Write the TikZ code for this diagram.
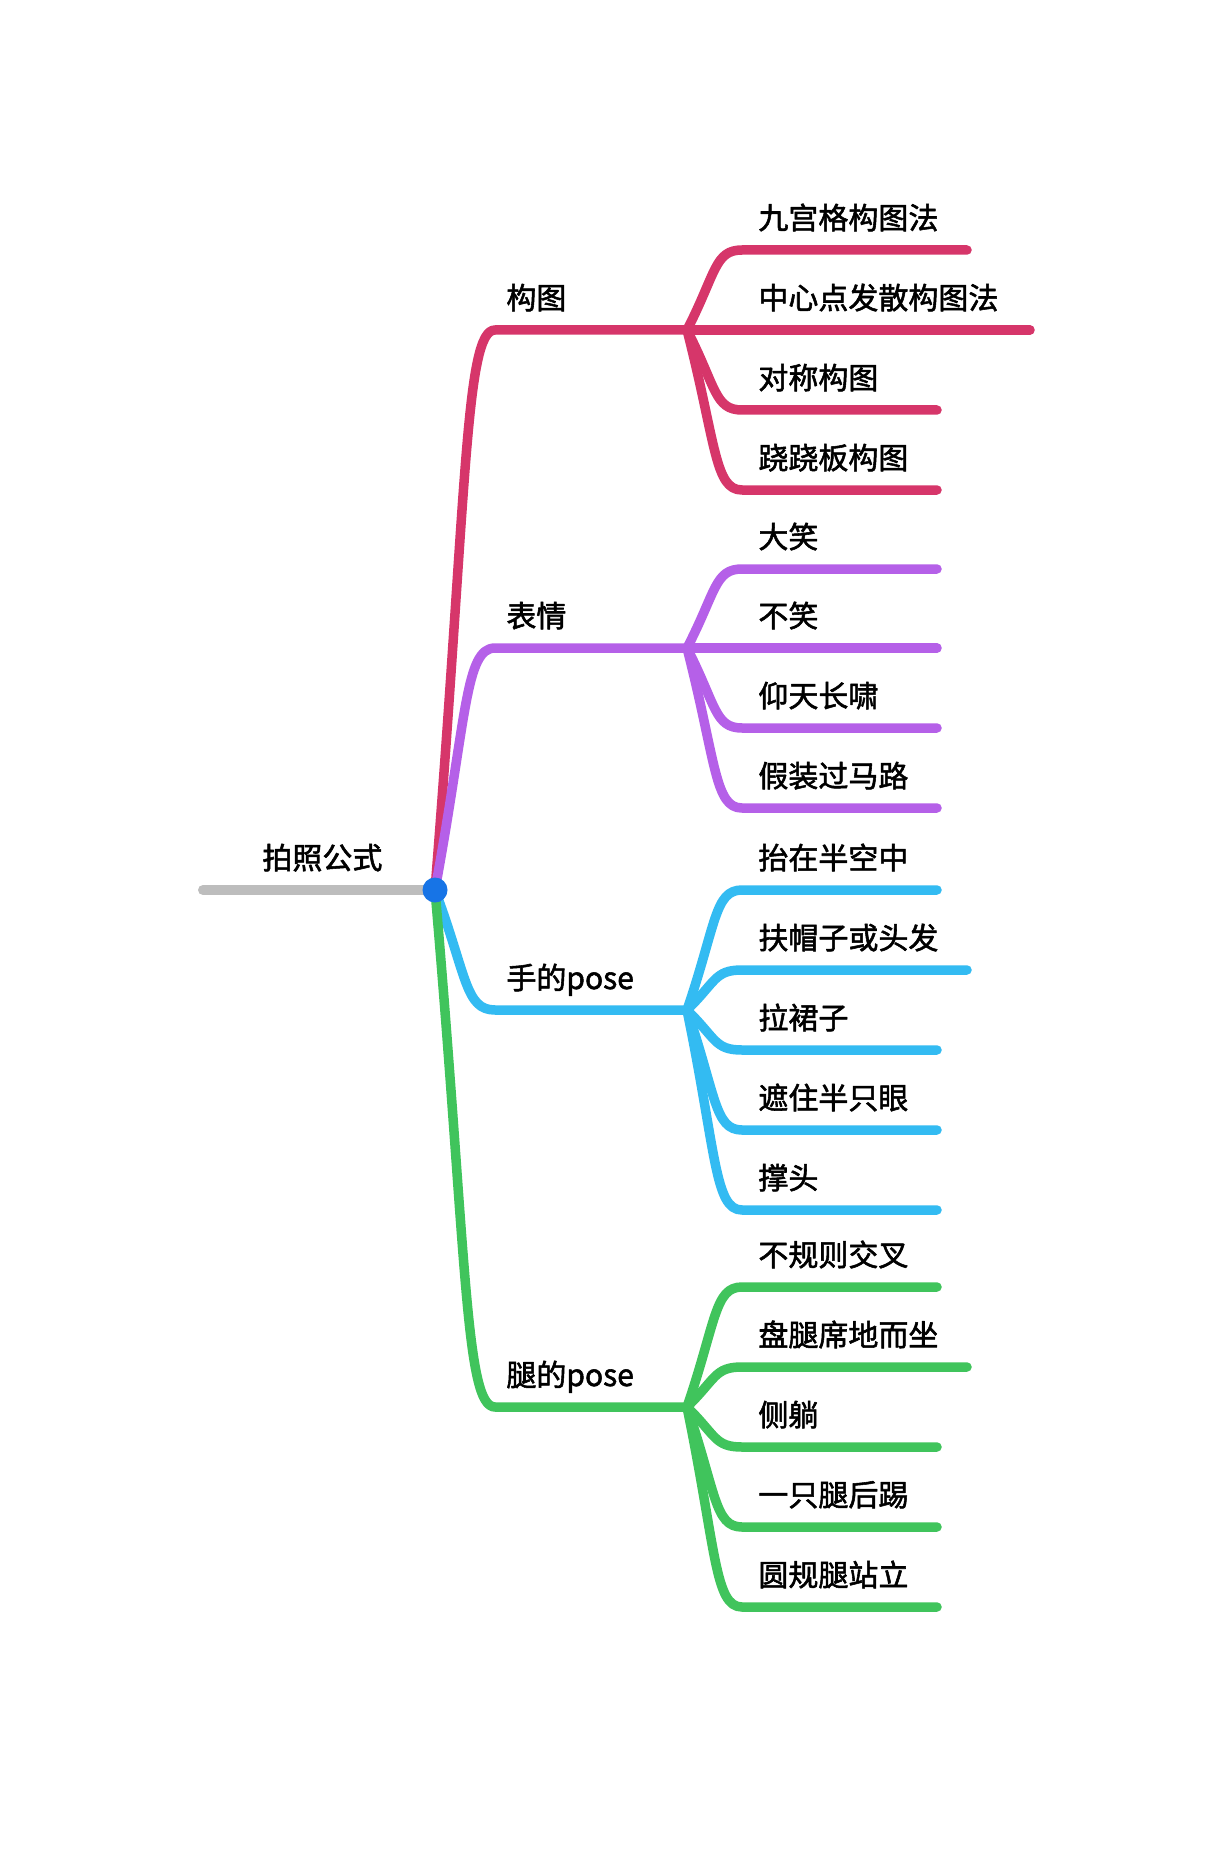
\documentclass[tikz,border=0pt]{standalone}
\usepackage{fontspec}
\usetikzlibrary{calc}
\newfontfamily\cjkfont{Noto Sans CJK SC}[FakeBold=1.8]
\definecolor{cA}{RGB}{214,54,106}
\definecolor{cB}{RGB}{181,96,232}
\definecolor{cC}{RGB}{51,187,242}
\definecolor{cD}{RGB}{64,196,92}
\definecolor{cRoot}{RGB}{189,189,189}
\definecolor{cDot}{RGB}{23,116,230}
\begin{document}
\begin{tikzpicture}[x=0.5pt,y=-0.5pt,line cap=round,line join=round,
  lbl/.style={anchor=base west,inner sep=0pt,font=\cjkfont\fontsize{15pt}{18pt}\selectfont,text=black},
  wire/.style={line width=4.75pt},
  branch/.style={to path={let \p1=(\tikztostart), \p2=(\tikztotarget) in
     .. controls ({\x1+0.53*(\x2-\x1)},{\y1+0.71*(\y2-\y1)}) and ({\x2-0.5*(\x2-\x1)},{\y2}) .. (\tikztotarget)}}]
\fill[white] (0,0) rectangle (1230,1850);
\useasboundingbox (0,0) rectangle (1230,1850);
% root
\coordinate (root) at (435,890);
\coordinate (g0) at (203,890);
\node[lbl] (troot) at (262,869) {拍照公式};
% main branch points
\coordinate (mA) at (495,330);  \coordinate (sA) at (687,330);
\coordinate (mB) at (495,648);  \coordinate (sB) at (687,648);
\coordinate (mC) at (495,1010); \coordinate (sC) at (687,1010);
\coordinate (mD) at (495,1407); \coordinate (sD) at (687,1407);
\node[lbl] (tA) at (506,309) {构图};
\node[lbl] (tB) at (506,627) {表情};
\node[lbl] (tC) at (506,989) {手的pose};
\node[lbl] (tD) at (506,1386) {腿的pose};
\draw[wire,cRoot,line width=5pt] (g0) -- (root);
\draw[wire,cA] (root) to[branch] (mA) -- (sA);
\draw[wire,cB] (root) to[branch] (mB) -- (sB);
\draw[wire,cC] (root) to[branch] (mC) -- (sC);
\draw[wire,cD] (root) to[branch] (mD) -- (sD);
% leaves
\foreach \y/\e/\t [count=\i] in {250/967/九宫格构图法,330/1030/中心点发散构图法,410/937/对称构图,490/937/跷跷板构图}{
  \coordinate (a\i s) at (742,\y); \coordinate (a\i e) at (\e,\y);
  \node[lbl] (a\i) at (758,\y-21) {\t};
  \draw[wire,cA] (sA) to[branch] (a\i s) -- (a\i e);
}
\foreach \y/\e/\t [count=\i] in {569/937/大笑,648/937/不笑,728/937/仰天长啸,808/937/假装过马路}{
  \coordinate (b\i s) at (742,\y); \coordinate (b\i e) at (\e,\y);
  \node[lbl] (b\i) at (758,\y-21) {\t};
  \draw[wire,cB] (sB) to[branch] (b\i s) -- (b\i e);
}
\foreach \y/\e/\t [count=\i] in {890/937/抬在半空中,970/967/扶帽子或头发,1050/937/拉裙子,1130/937/遮住半只眼,1210/937/撑头}{
  \coordinate (c\i s) at (742,\y); \coordinate (c\i e) at (\e,\y);
  \node[lbl] (c\i) at (758,\y-21) {\t};
  \draw[wire,cC] (sC) to[branch] (c\i s) -- (c\i e);
}
\foreach \y/\e/\t [count=\i] in {1287/937/不规则交叉,1367/967/盘腿席地而坐,1447/937/侧躺,1527/937/一只腿后踢,1607/937/圆规腿站立}{
  \coordinate (d\i s) at (742,\y); \coordinate (d\i e) at (\e,\y);
  \node[lbl] (d\i) at (758,\y-21) {\t};
  \draw[wire,cD] (sD) to[branch] (d\i s) -- (d\i e);
}
\fill[cDot] (root) circle (12.5);
\end{tikzpicture}
\end{document}
